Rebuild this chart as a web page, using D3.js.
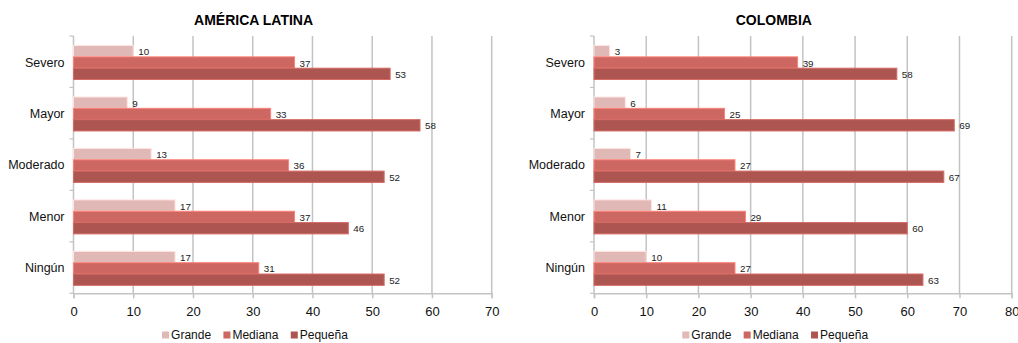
<!DOCTYPE html>
<html>
<head>
<meta charset="utf-8">
<script src="https://cdn.jsdelivr.net/npm/d3@7"></script>
<style>
  html, body { margin: 0; padding: 0; background: #fff; }
  svg { display: block; font-family: "Liberation Sans", Arial, sans-serif; }
</style>
</head>
<body>
<svg id="chart" width="1018" height="343"></svg>
<script>
// Impact categories (top to bottom) and company-size series
const categories = ["Severo", "Mayor", "Moderado", "Menor", "Ningún"];
const seriesNames = ["Grande", "Mediana", "Pequeña"];
const seriesColors = ["#e0b8b6", "#cd6761", "#ad5651"];

// América Latina, percent by company size
const latamGrande  = [10, 9, 13, 17, 17];
const latamMediana = [37, 33, 36, 37, 31];
const latamPequena = [53, 58, 52, 46, 52];
const latamTicks = [0, 10, 20, 30, 40, 50, 60, 70];

// Colombia, percent by company size
const colGrande  = [3, 6, 7, 11, 10];
const colMediana = [39, 25, 27, 29, 27];
const colPequena = [58, 69, 67, 60, 63];
const colTicks = [0, 10, 20, 30, 40, 50, 60, 70, 80];

const svg = d3.select("#chart");

function drawPanel(opts) {
  const { title, series, ticks, left, right, top, bottom } = opts;
  const g = svg.append("g");

  const x = d3.scaleLinear().domain([0, d3.max(ticks)]).range([left, right]);
  const y = d3.scaleBand().domain(categories).range([top + 0.8, bottom + 0.8])
    .paddingInner(0.34).paddingOuter(0.17);
  const ySub = d3.scaleBand().domain(seriesNames).range([0, y.bandwidth()]);

  // vertical gridlines
  g.append("g").selectAll("line").data(ticks.slice(1)).join("line")
    .attr("x1", d => x(d)).attr("x2", d => x(d))
    .attr("y1", top).attr("y2", bottom)
    .attr("stroke", "#c3c3c3").attr("stroke-width", 1.5);

  // category axis: line + separator ticks between bands
  const step = (bottom - top) / categories.length;
  const sepY = d3.range(categories.length + 1).map(i => top + i * step);
  g.append("line").attr("x1", x(0)).attr("x2", x(0)).attr("y1", top).attr("y2", bottom)
    .attr("stroke", "#c3c3c3").attr("stroke-width", 1.5);
  g.append("g").selectAll("line").data(sepY).join("line")
    .attr("x1", x(0) - 4).attr("x2", x(0)).attr("y1", d => d).attr("y2", d => d)
    .attr("stroke", "#c3c3c3").attr("stroke-width", 1.2);

  // category labels
  g.append("g").selectAll("text").data(categories).join("text")
    .attr("x", x(0) - 9).attr("y", d => y(d) + y.bandwidth() / 2)
    .attr("text-anchor", "end").attr("dominant-baseline", "central")
    .attr("font-size", 12.5).attr("fill", "#111").text(d => d);

  // value axis
  const xAxis = d3.axisBottom(x).tickValues(ticks).tickSize(5).tickPadding(8);
  const ax = g.append("g").attr("transform", `translate(0,${bottom})`).call(xAxis);
  ax.select(".domain").attr("stroke", "#c3c3c3").attr("stroke-width", 1.5);
  ax.selectAll(".tick line").attr("stroke", "#c3c3c3").attr("stroke-width", 1.5);
  ax.selectAll(".tick text").attr("font-size", 13).attr("fill", "#111")
    .attr("font-family", "Liberation Sans, Arial, sans-serif");

  // bars
  seriesNames.forEach((s, si) => {
    const vals = series[si];
    const bg = g.append("g");
    bg.selectAll("rect").data(categories).join("rect")
      .attr("x", x(0))
      .attr("y", (c) => y(c) + ySub(s))
      .attr("width", (c, i) => x(vals[i]) - x(0))
      .attr("height", ySub.bandwidth())
      .attr("fill", seriesColors[si])
      .attr("stroke", d3.color(seriesColors[si]).brighter(0.6))
      .attr("stroke-width", 1);
    bg.selectAll("text").data(categories).join("text")
      .attr("x", (c, i) => x(vals[i]) + 5)
      .attr("y", (c) => y(c) + ySub(s) + ySub.bandwidth() / 2 + 0.5)
      .attr("dominant-baseline", "central")
      .attr("font-size", 9.8).attr("fill", "#222")
      .text((c, i) => vals[i]);
  });

  const cx = (left + right) / 2 - 29;

  // title
  g.append("text").attr("x", cx).attr("y", 20)
    .attr("text-anchor", "middle").attr("dominant-baseline", "central")
    .attr("font-size", 14).attr("font-weight", "bold").attr("fill", "#000")
    .text(title);

  // legend
  const lg = g.append("g");
  const items = lg.selectAll("g").data(seriesNames).join("g");
  items.append("rect").attr("width", 7).attr("height", 7).attr("y", -3.5)
    .attr("fill", (d, i) => seriesColors[i]);
  items.append("text").attr("x", 9).attr("dominant-baseline", "central")
    .attr("font-size", 12).attr("fill", "#111").text(d => d);
  let off = 0;
  items.each(function () {
    const w = this.getBBox().width;
    d3.select(this).attr("transform", `translate(${off},0)`);
    off += w + 12;
  });
  const total = off - 12;
  lg.attr("transform", `translate(${cx - total / 2 + 1.5},${335})`);
}

drawPanel({
  title: "AMÉRICA LATINA",
  series: [latamGrande, latamMediana, latamPequena],
  ticks: latamTicks,
  left: 73.5, right: 491.7, top: 36, bottom: 293.3
});

drawPanel({
  title: "COLOMBIA",
  series: [colGrande, colMediana, colPequena],
  ticks: colTicks,
  left: 594, right: 1011.7, top: 36, bottom: 293.3
});
</script>
</body>
</html>
